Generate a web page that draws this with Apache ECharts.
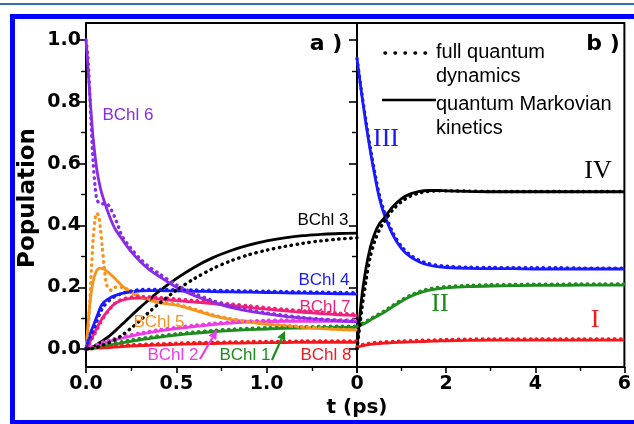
<!DOCTYPE html>
<html><head><meta charset="utf-8">
<script src="https://cdn.jsdelivr.net/npm/echarts@6/dist/echarts.min.js"></script>
<style>html,body{margin:0;padding:0;background:#fff}#c{width:634px;height:424px}</style>
</head><body><div id="c"></div>
<script>
// ---------- panel a) : site populations, t in ps ----------
const tA = [0,0.01,0.02,0.04,0.06,0.08,0.1,0.13,0.16,0.2,0.25,0.3,0.35,0.4,0.5,0.6,0.7,0.8,0.9,1.0,1.1,1.2,1.3,1.4,1.5];
const bchl6Markov = [1.0,0.92,0.83,0.68,0.58,0.52,0.48,0.43,0.39,0.355,0.315,0.283,0.257,0.237,0.2,0.173,0.152,0.135,0.123,0.114,0.106,0.1,0.095,0.091,0.088];
const tA6Full = [0,0.01,0.02,0.03,0.04,0.05,0.06,0.08,0.1,0.12,0.14,0.16,0.18,0.2,0.25,0.3,0.35,0.4,0.5,0.6,0.7,0.8,0.9,1.0,1.1,1.2,1.3,1.4,1.5];
const bchl6Full = [1.0,0.95,0.84,0.71,0.6,0.53,0.485,0.47,0.47,0.468,0.45,0.425,0.395,0.365,0.325,0.292,0.266,0.246,0.208,0.18,0.157,0.14,0.127,0.117,0.109,0.102,0.097,0.093,0.09];
const bchl5Markov = [0,0.07,0.14,0.22,0.255,0.262,0.258,0.245,0.228,0.205,0.183,0.168,0.158,0.15,0.142,0.126,0.108,0.096,0.087,0.08,0.075,0.07,0.066,0.063,0.061];
const tA5Full = [0,0.01,0.02,0.03,0.04,0.05,0.06,0.07,0.08,0.09,0.1,0.11,0.12,0.14,0.16,0.18,0.2,0.25,0.3,0.35,0.4,0.5,0.6,0.7,0.8,0.9,1.0,1.1,1.2,1.3,1.4,1.5];
const bchl5Full = [0,0.05,0.14,0.26,0.36,0.42,0.44,0.43,0.39,0.33,0.27,0.22,0.2,0.19,0.2,0.2,0.2,0.186,0.171,0.161,0.153,0.145,0.129,0.111,0.098,0.089,0.082,0.077,0.072,0.068,0.064,0.062];
const bchl4Markov = [0,0.025,0.045,0.075,0.105,0.135,0.152,0.165,0.173,0.18,0.185,0.188,0.189,0.189,0.188,0.187,0.186,0.185,0.184,0.183,0.182,0.181,0.18,0.179,0.178];
const bchl4Full = [0,0.02,0.035,0.06,0.09,0.12,0.14,0.158,0.17,0.18,0.188,0.192,0.193,0.193,0.192,0.191,0.19,0.189,0.188,0.187,0.186,0.185,0.184,0.183,0.182];
const bchl7Markov = [0,0.01,0.022,0.045,0.068,0.09,0.108,0.13,0.147,0.158,0.164,0.165,0.164,0.162,0.157,0.152,0.147,0.141,0.135,0.129,0.124,0.119,0.115,0.111,0.108];
const bchl7Full = [0,0.008,0.018,0.04,0.062,0.085,0.104,0.128,0.148,0.161,0.168,0.17,0.169,0.167,0.162,0.157,0.152,0.146,0.14,0.134,0.129,0.124,0.12,0.116,0.113];
const bchl3Markov = [0,0,0.003,0.008,0.015,0.022,0.03,0.043,0.058,0.08,0.108,0.135,0.16,0.185,0.228,0.265,0.295,0.318,0.336,0.35,0.36,0.367,0.371,0.374,0.375];
const bchl3Full = [0,0,0,0.003,0.006,0.01,0.015,0.022,0.03,0.045,0.068,0.093,0.12,0.145,0.19,0.228,0.26,0.285,0.305,0.32,0.332,0.342,0.35,0.356,0.36];
const bchl2Markov = [0,0.002,0.004,0.008,0.012,0.016,0.02,0.025,0.03,0.035,0.042,0.048,0.053,0.058,0.066,0.073,0.079,0.084,0.087,0.089,0.09,0.09,0.09,0.09,0.09];
const bchl2Full = [0,0.002,0.004,0.009,0.014,0.019,0.024,0.029,0.034,0.039,0.046,0.052,0.057,0.062,0.07,0.077,0.083,0.088,0.091,0.093,0.094,0.094,0.094,0.094,0.094];
const bchl1Markov = [0,0.001,0.002,0.004,0.006,0.008,0.01,0.013,0.016,0.02,0.025,0.03,0.034,0.038,0.045,0.051,0.056,0.06,0.063,0.065,0.067,0.068,0.069,0.07,0.07];
const bchl1Full = [0,0.001,0.003,0.006,0.009,0.012,0.014,0.017,0.02,0.024,0.029,0.034,0.038,0.042,0.049,0.055,0.06,0.064,0.067,0.069,0.071,0.072,0.073,0.074,0.074];
const bchl8Markov = [0,0.001,0.001,0.002,0.003,0.003,0.004,0.005,0.006,0.008,0.01,0.011,0.012,0.013,0.015,0.017,0.018,0.019,0.02,0.021,0.021,0.022,0.022,0.022,0.022];
const bchl8Full = [0,0.002,0.003,0.005,0.006,0.007,0.008,0.009,0.01,0.012,0.014,0.015,0.016,0.017,0.019,0.021,0.022,0.023,0.024,0.025,0.025,0.026,0.026,0.026,0.026];

// ---------- panel b) : sites I-IV, t in ps ----------
const tB = [0,0.1,0.2,0.3,0.4,0.5,0.6,0.8,1.0,1.2,1.4,1.6,1.8,2.0,2.5,3,3.5,4,4.5,5,5.5,6];
const siteIIIMarkov = [0.94,0.83,0.73,0.64,0.56,0.49,0.44,0.37,0.325,0.298,0.282,0.272,0.267,0.264,0.261,0.26,0.26,0.259,0.259,0.259,0.259,0.259];
const siteIIIFull = [0.94,0.835,0.738,0.65,0.57,0.5,0.45,0.378,0.332,0.304,0.287,0.277,0.271,0.268,0.265,0.264,0.263,0.263,0.263,0.262,0.262,0.262];
const siteIVMarkov = [0,0.16,0.26,0.33,0.375,0.405,0.422,0.46,0.487,0.502,0.51,0.513,0.513,0.512,0.51,0.509,0.509,0.509,0.509,0.509,0.509,0.509];
const siteIVFull = [0,0.12,0.22,0.3,0.35,0.385,0.41,0.45,0.477,0.495,0.505,0.51,0.512,0.512,0.511,0.51,0.51,0.51,0.51,0.51,0.51,0.51];
const siteIIMarkov = [0.072,0.078,0.085,0.094,0.102,0.11,0.118,0.137,0.155,0.17,0.182,0.19,0.195,0.198,0.202,0.204,0.205,0.206,0.206,0.207,0.207,0.207];
const siteIIFull = [0.074,0.081,0.089,0.098,0.106,0.114,0.122,0.141,0.159,0.174,0.186,0.194,0.199,0.202,0.206,0.208,0.209,0.21,0.21,0.211,0.211,0.211];
const siteIMarkov = [0.005,0.01,0.013,0.015,0.017,0.018,0.019,0.021,0.022,0.023,0.024,0.025,0.026,0.027,0.028,0.029,0.029,0.029,0.029,0.029,0.029,0.029];
const siteIFull = [0.007,0.013,0.017,0.019,0.021,0.022,0.023,0.025,0.026,0.027,0.028,0.029,0.03,0.031,0.032,0.033,0.033,0.033,0.033,0.033,0.033,0.033];

// ---------- axes ticks ----------
const yTicks = [0,0.2,0.4,0.6,0.8,1.0];
const yMinor = [0.1,0.3,0.5,0.7,0.9];
const xTicksA = [0,0.5,1.0];
const xMinorA = [0.25,0.75,1.25];
const xTicksB = [0,2,4,6];
const xMinorB = [1,3,5];

const C = {b6:'#8a2be6', b5:'#f7941d', b4:'#1a1aff', b7:'#f0207a', b3:'#000000', b2:'#ec3ce6', b1:'#1e8c1e', b8:'#f2181e'};

function zip(t,v){return t.map((x,i)=>[x,v[i]]);}
function solid(color,t,v,ax){return {type:'line',xAxisIndex:ax,yAxisIndex:ax,data:zip(t,v),showSymbol:false,smooth:0.3,
  lineStyle:{color:color,width:2.8},itemStyle:{color:color},silent:true,z:3};}
function dotted(color,t,v,ax){return {type:'line',xAxisIndex:ax,yAxisIndex:ax,data:zip(t,v),showSymbol:false,smooth:0.3,
  lineStyle:{color:color,width:3.4,type:[0.5,5.5],cap:'round'},itemStyle:{color:color},silent:true,z:4};}

const tickFont = {color:'#000',fontFamily:'DejaVu Sans',fontWeight:'bold',fontSize:19};
function mainX(grid,min,max,ticks,labels,fmt){return {gridIndex:grid,type:'value',min:min,max:max,position:'bottom',
  axisLine:{show:true,onZero:false,lineStyle:{color:'#000',width:2}},
  axisTick:{show:true,customValues:ticks,length:6,lineStyle:{color:'#000',width:1.6}},
  axisLabel:Object.assign({show:true,customValues:labels,margin:8,formatter:fmt},tickFont),
  splitLine:{show:false}};}
function minorX(grid,min,max,ticks){return {gridIndex:grid,type:'value',min:min,max:max,position:'bottom',
  axisLine:{show:false,onZero:false},axisTick:{show:true,customValues:ticks,length:4,lineStyle:{color:'#000',width:1.4}},
  axisLabel:{show:false},splitLine:{show:false}};}
function mainY(grid,showLab){return {gridIndex:grid,type:'value',min:-0.058,max:1.055,position:'left',
  axisLine:{show:true,onZero:false,lineStyle:{color:'#000',width:2}},
  axisTick:{show:true,customValues:yTicks,length:8,lineStyle:{color:'#000',width:1.6}},
  axisLabel:Object.assign({show:showLab,customValues:yTicks,margin:5,formatter:v=>v.toFixed(1)},tickFont),
  splitLine:{show:false}};}
function minorY(grid){return {gridIndex:grid,type:'value',min:-0.058,max:1.055,position:'left',
  axisLine:{show:false,onZero:false},axisTick:{show:true,customValues:yMinor,length:5,lineStyle:{color:'#000',width:1.4}},
  axisLabel:{show:false},splitLine:{show:false}};}

function txt(text,x,y,color,font,rot){return {type:'text',x:x,y:y,rotation:rot||0,z:100,
  style:{text:text,fill:color,font:font,align:'center',verticalAlign:'middle'}};}
function txtL(text,x,y,font){return {type:'text',x:x,y:y,z:100,style:{text:text,fill:'#000',font:font,align:'left',verticalAlign:'middle'}};}
function arrow(x1,y1,x2,y2,color){
  const dx=x2-x1, dy=y2-y1, L=Math.hypot(dx,dy), ux=dx/L, uy=dy/L, px=-uy, py=ux, hl=9, hw=4.5;
  const bx=x2-ux*hl, by=y2-uy*hl;
  return [{type:'line',z:100,shape:{x1:x1,y1:y1,x2:bx,y2:by},style:{stroke:color,lineWidth:2.2}},
          {type:'polygon',z:100,shape:{points:[[x2,y2],[bx+px*hw,by+py*hw],[bx-px*hw,by-py*hw]]},style:{fill:color}}];
}

const labFont = '17px "Liberation Sans"';
const romFont = '26px "Liberation Serif"';
const legFont = '20px "Liberation Sans"';

const option = {
  animation:false,
  backgroundColor:'#fff',
  grid:[
    {left:86,top:23,width:271,height:344,show:true,borderColor:'#000',borderWidth:2,backgroundColor:'transparent',containLabel:false},
    {left:357,top:23,width:270,height:344,show:true,borderColor:'#000',borderWidth:2,backgroundColor:'transparent',containLabel:false}
  ],
  xAxis:[
    mainX(0,0,1.5,[0,0.5,1.0,1.5],xTicksA,v=>v.toFixed(1)),
    minorX(0,0,1.5,xMinorA),
    mainX(1,0,6,xTicksB,xTicksB,v=>String(v)),
    minorX(1,0,6,xMinorB)
  ],
  yAxis:[mainY(0,true),minorY(0),mainY(1,false),minorY(1)],
  series:[
    solid(C.b8,tA,bchl8Markov,0), dotted(C.b8,tA,bchl8Full,0),
    solid(C.b1,tA,bchl1Markov,0), dotted(C.b1,tA,bchl1Full,0),
    solid(C.b2,tA,bchl2Markov,0), dotted(C.b2,tA,bchl2Full,0),
    solid(C.b5,tA,bchl5Markov,0), dotted(C.b5,tA5Full,bchl5Full,0),
    solid(C.b7,tA,bchl7Markov,0), dotted(C.b7,tA,bchl7Full,0),
    solid(C.b4,tA,bchl4Markov,0), dotted(C.b4,tA,bchl4Full,0),
    solid(C.b3,tA,bchl3Markov,0), dotted(C.b3,tA,bchl3Full,0),
    solid(C.b6,tA,bchl6Markov,0), dotted(C.b6,tA6Full,bchl6Full,0),
    solid(C.b8,tB,siteIMarkov,2), dotted(C.b8,tB,siteIFull,2),
    solid(C.b1,tB,siteIIMarkov,2), dotted(C.b1,tB,siteIIFull,2),
    solid(C.b4,tB,siteIIIMarkov,2), dotted(C.b4,tB,siteIIIFull,2),
    solid(C.b3,tB,siteIVMarkov,2), dotted(C.b3,tB,siteIVFull,2)
  ],
  graphic:[
    {type:'line',z:100,shape:{x1:0,y1:4,x2:634,y2:4},style:{stroke:'#2e6fb3',lineWidth:2}},
    {type:'rect',z:100,shape:{x:12.5,y:16.5,width:640,height:406},style:{fill:null,stroke:'#0000ff',lineWidth:5}},
    txt('Population',28,198,'#000','bold 23px "DejaVu Sans"',Math.PI/2),
    txt('t (ps)',357,408,'#000','bold 20px "DejaVu Sans"'),
    txt('a )',326,44,'#000','bold 22px "DejaVu Sans"'),
    txt('b )',603,44,'#000','bold 22px "DejaVu Sans"'),
    txt('BChl 6',128,115,C.b6,labFont),
    txt('BChl 3',323,220,C.b3,labFont),
    txt('BChl 4',324,280,C.b4,labFont),
    txt('BChl 7',325,307,C.b7,labFont),
    txt('BChl 5',159,322,C.b5,labFont),
    txt('BChl 2',173,355,C.b2,labFont),
    txt('BChl 1',245,355,C.b1,labFont),
    txt('BChl 8',326,355,C.b8,labFont),
    ...arrow(200,359,217,330,C.b2),
    ...arrow(272,360,285,331,C.b1),
    txt('III',386,139,C.b4,romFont),
    txt('IV',598,171,'#000',romFont),
    txt('II',440,304,C.b1,romFont),
    txt('I',595,320,C.b8,romFont),
    {type:'line',z:100,shape:{x1:385,y1:53,x2:427,y2:53},style:{stroke:'#000',lineWidth:3.5,lineDash:[0.5,9.5],lineCap:'round'}},
    {type:'line',z:100,shape:{x1:382,y1:100,x2:436,y2:100},style:{stroke:'#000',lineWidth:2.5}},
    txtL('full quantum',436,52,legFont),
    txtL('dynamics',436,76,legFont),
    txtL('quantum Markovian',436,104,legFont),
    txtL('kinetics',436,128,legFont)
  ]
};
const chart = echarts.init(document.getElementById('c'));
chart.setOption(option);
</script>
</body></html>
